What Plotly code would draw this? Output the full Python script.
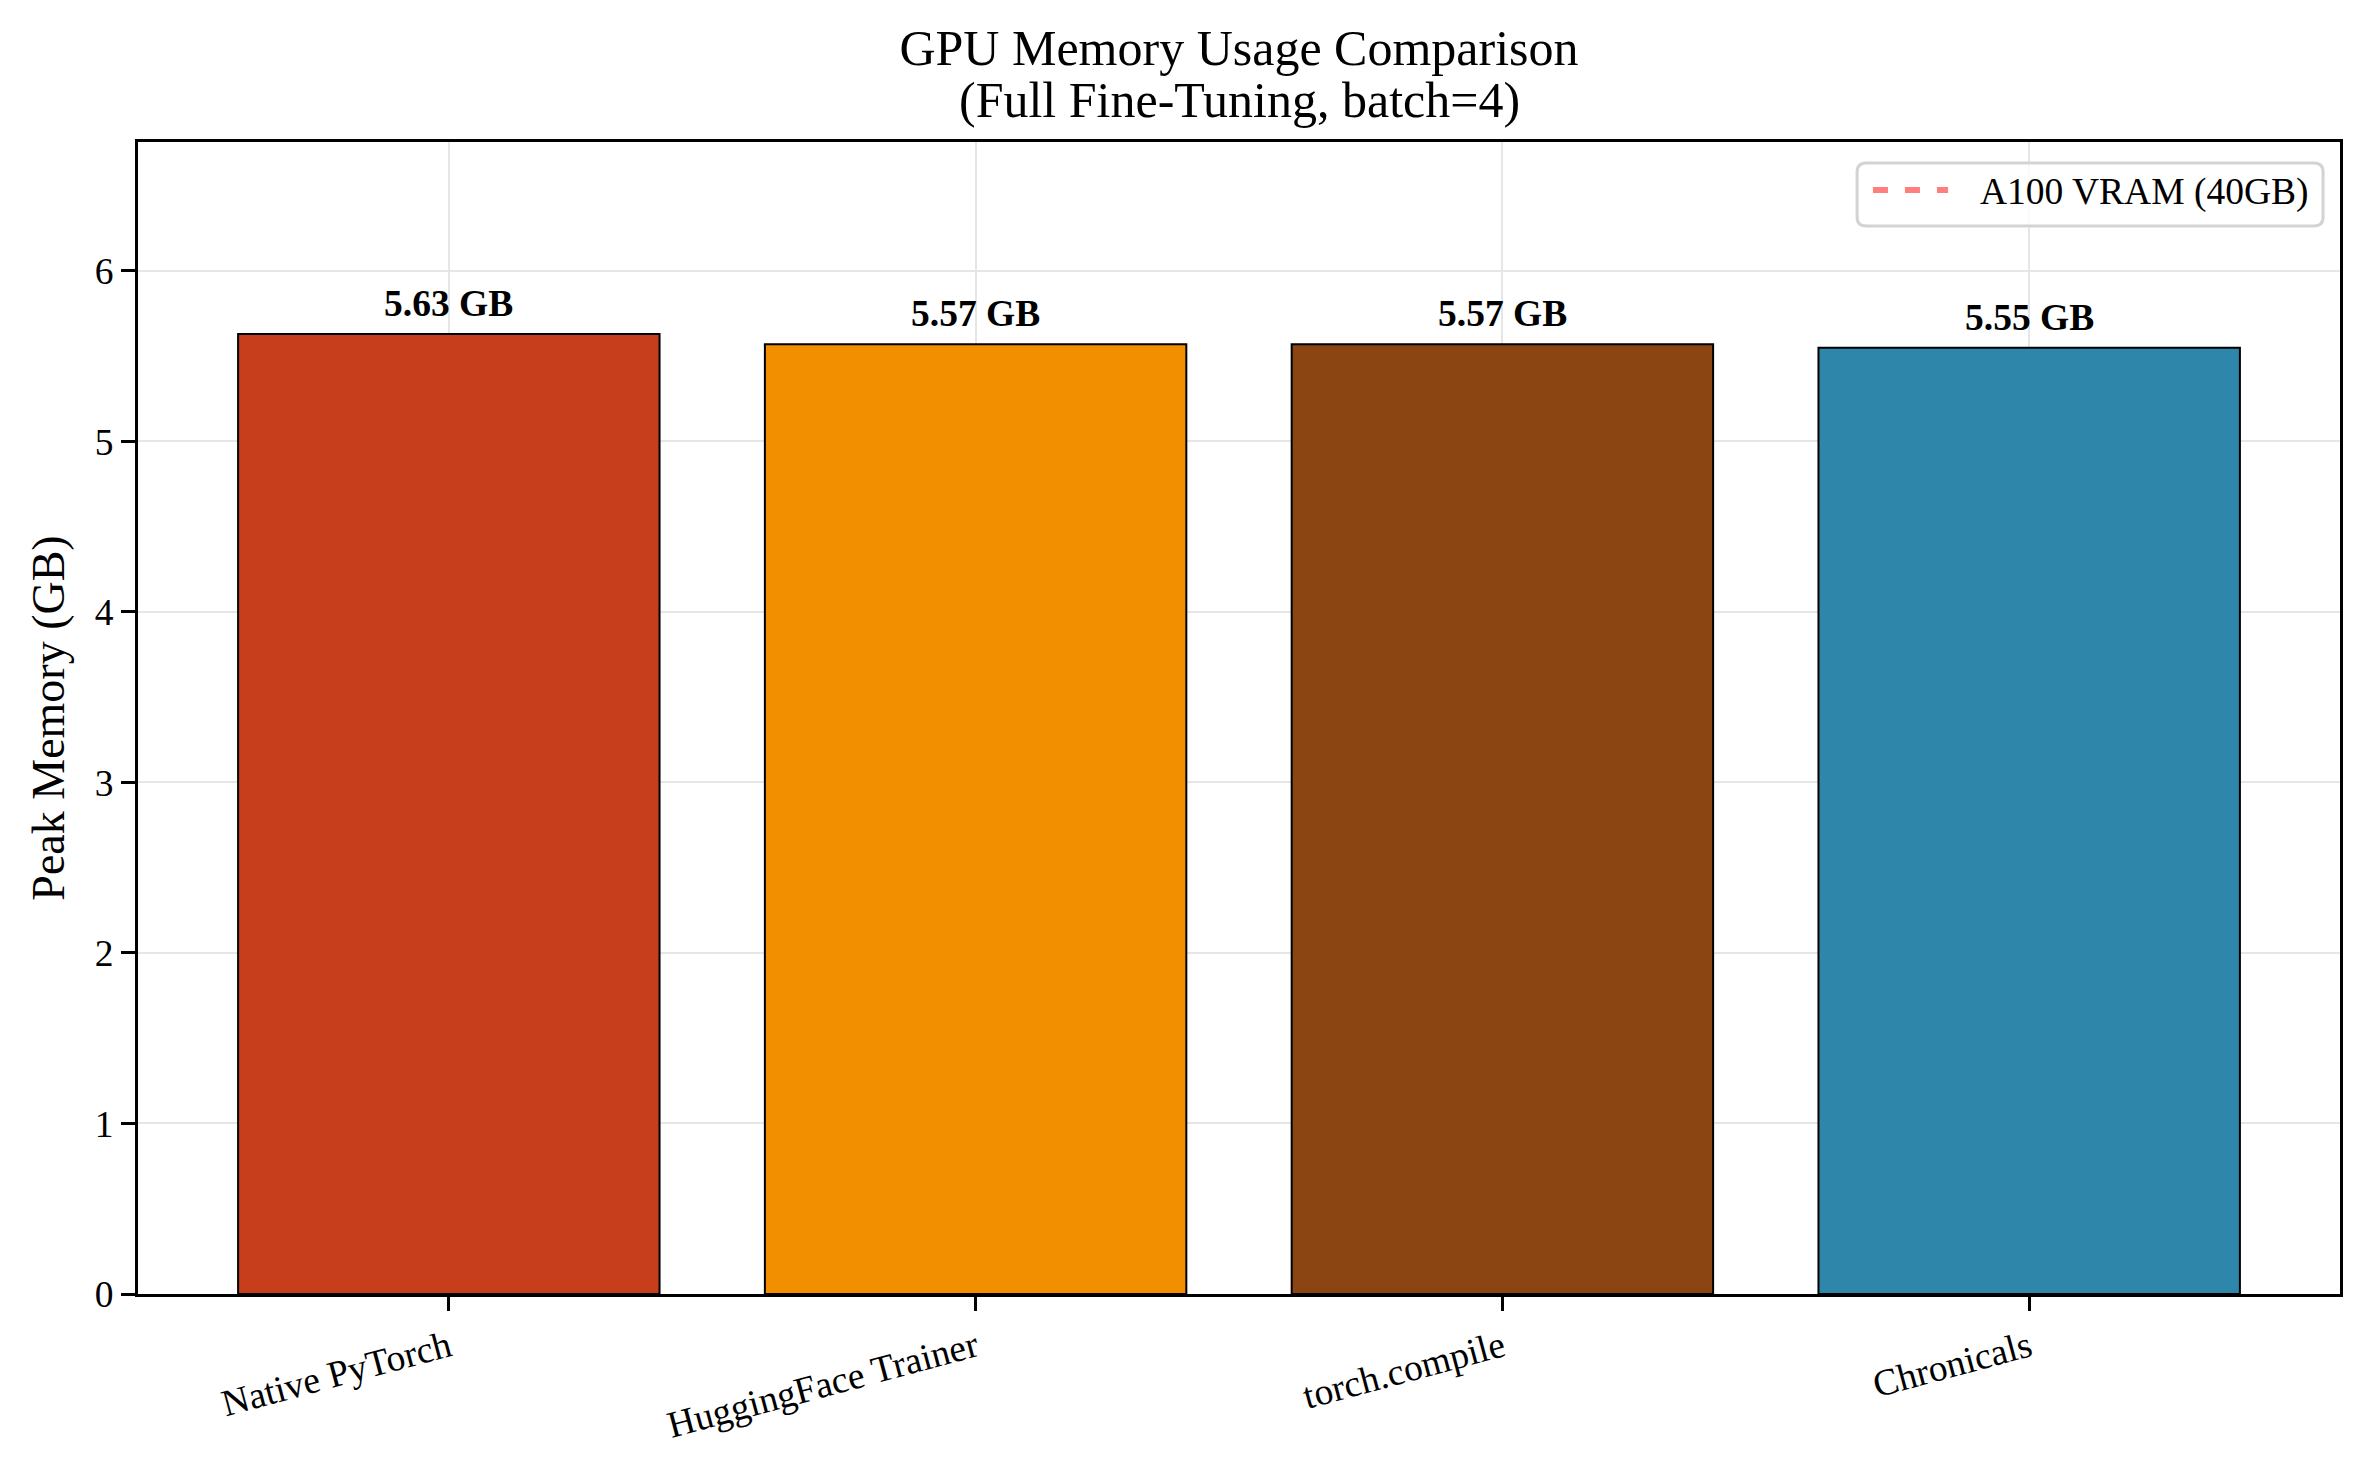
import plotly.graph_objects as go

# dados
methods = ["Native PyTorch", "HuggingFace Trainer", "torch.compile", "Chronicals"]
peak_memory_gb = [5.63, 5.57, 5.57, 5.55]
bar_colors = ["#C73E1D", "#F18F01", "#8B4513", "#2E86AB"]
a100_vram_gb = 40
a100_label = "A100 VRAM (40GB)"

FONT = "Liberation Serif, Times New Roman, serif"
A100_COLOR = "rgba(255,0,0,0.5)"

# a página tem 8px de margem no body, então a figura é um pouco menor
W, H = 2354, 1454
L, R, T, B = 130, 22, 134, 168
PW, PH = W - L - R, H - T - B


def rounded_box(x0, y0, x1, y1, r_px=9):
    # caixa com cantos arredondados em coordenadas "paper"
    rx, ry = r_px / PW, r_px / PH
    return (
        f"M {x0 + rx},{y0} L {x1 - rx},{y0} Q {x1},{y0} {x1},{y0 + ry} "
        f"L {x1},{y1 - ry} Q {x1},{y1} {x1 - rx},{y1} "
        f"L {x0 + rx},{y1} Q {x0},{y1} {x0},{y1 - ry} "
        f"L {x0},{y0 + ry} Q {x0},{y0} {x0 + rx},{y0} Z"
    )


fig = go.Figure()

fig.add_trace(go.Bar(
    x=methods,
    y=peak_memory_gb,
    width=0.8,
    marker=dict(color=bar_colors, line=dict(color="black", width=2)),
    showlegend=False,
))

# linha de referência da A100 (fica fora da escala do eixo)
fig.add_trace(go.Scatter(
    x=methods,
    y=[a100_vram_gb] * len(methods),
    mode="lines",
    line=dict(color=A100_COLOR, dash="15px,17px", width=6),
    name=a100_label,
    showlegend=False,
))

# rótulos em cima das barras
for m, v in zip(methods, peak_memory_gb):
    fig.add_annotation(
        x=m, y=v, text=f"<b>{v:.2f} GB</b>",
        showarrow=False, yanchor="bottom", yshift=8,
        font=dict(family=FONT, size=37.5, color="black"),
    )

# segunda linha do título
fig.add_annotation(
    text="(Full Fine-Tuning, batch=4)",
    xref="paper", yref="paper", x=0.5, y=1.0366,
    xanchor="center", yanchor="middle", showarrow=False,
    font=dict(family=FONT, size=50, color="black"),
)

# legenda no estilo do matplotlib (caixa arredondada + linha tracejada)
fig.add_shape(
    type="path", xref="paper", yref="paper",
    path=rounded_box(0.7807, 0.9271, 0.9923, 0.9818),
    fillcolor="rgba(255,255,255,0.8)",
    line=dict(color="#d3d3d3", width=3),
)
fig.add_shape(
    type="line", xref="paper", yref="paper",
    x0=0.7879, x1=0.8220, y0=0.9583, y1=0.9583,
    line=dict(color=A100_COLOR, dash="15px,17px", width=6),
)
fig.add_annotation(
    text=a100_label,
    xref="paper", yref="paper", x=0.8356, y=0.957,
    xanchor="left", yanchor="middle", showarrow=False,
    font=dict(family=FONT, size=37.5, color="black"),
)

fig.update_layout(
    width=W,
    height=H,
    margin=dict(l=L, r=R, t=T, b=B),
    paper_bgcolor="white",
    plot_bgcolor="white",
    font=dict(family=FONT, color="black", size=37.5),
    title=dict(
        text="GPU Memory Usage Comparison",
        font=dict(family=FONT, size=50, color="black"),
        x=0.5, xref="paper", xanchor="center",
        y=1 - 39 / H, yref="container", yanchor="middle",
    ),
    showlegend=False,
    bargap=0.2,
)

fig.update_xaxes(
    range=[-0.59, 3.59],
    tickangle=-15,
    tickfont=dict(family=FONT, size=37.5),
    showline=True, mirror=True, linecolor="black", linewidth=3,
    ticks="outside", ticklen=14, tickwidth=3, tickcolor="black",
    showgrid=True, gridcolor="#e6e6e6", gridwidth=2,
    automargin=False,
)

fig.update_yaxes(
    range=[0, 5.63 * 1.2],
    dtick=1,
    title=dict(text="Peak Memory (GB)", font=dict(family=FONT, size=46), standoff=16),
    tickfont=dict(family=FONT, size=37.5),
    showline=True, mirror=True, linecolor="black", linewidth=3,
    ticks="outside", ticklen=14, tickwidth=3, tickcolor="black",
    showgrid=True, gridcolor="#e6e6e6", gridwidth=2,
    zeroline=False,
    automargin=False,
)

fig.write_html("out.html")
